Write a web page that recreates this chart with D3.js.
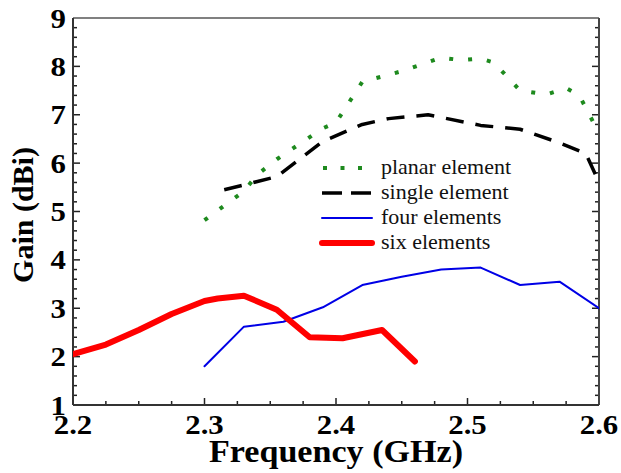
<!DOCTYPE html>
<html>
<head>
<meta charset="utf-8">
<script src="https://cdn.jsdelivr.net/npm/d3@7"></script>
<style>
  body { margin: 0; background: #fff; }
  svg { display: block; }
</style>
</head>
<body>
<div id="chart"></div>
<script>

// values
var planarFreq = [2.30, 2.33, 2.34, 2.355, 2.39, 2.40, 2.42, 2.45, 2.48, 2.495, 2.51, 2.52, 2.54, 2.56, 2.575, 2.585, 2.60];
var planarGain = [4.82, 5.42, 5.76, 6.08, 6.72, 6.84, 7.68, 7.9, 8.18, 8.13, 8.16, 8.08, 7.5, 7.42, 7.55, 7.4, 6.62];

var singleFreq = [2.315, 2.33, 2.355, 2.39, 2.42, 2.44, 2.47, 2.51, 2.54, 2.57, 2.59, 2.60];
var singleGain = [5.45, 5.55, 5.72, 6.45, 6.8, 6.92, 7.0, 6.78, 6.7, 6.42, 6.2, 5.6];

var fourFreq = [2.30, 2.33, 2.36, 2.39, 2.42, 2.45, 2.48, 2.51, 2.54, 2.57, 2.60];
var fourGain = [1.8, 2.62, 2.72, 3.02, 3.48, 3.65, 3.8, 3.84, 3.48, 3.55, 3.0];

var sixFreq = [2.20, 2.225, 2.25, 2.275, 2.30, 2.31, 2.33, 2.355, 2.38, 2.405, 2.435, 2.46];
var sixGain = [2.05, 2.25, 2.55, 2.88, 3.15, 3.2, 3.26, 2.97, 2.4, 2.38, 2.55, 1.9];

var xTicks = [2.2, 2.3, 2.4, 2.5, 2.6];
var yTicks = [1, 2, 3, 4, 5, 6, 7, 8, 9];

var seriesNames = ["planar element", "single element", "four elements", "six elements"];

var W = 621, H = 473;
var margin = {top: 18, right: 22, bottom: 68, left: 73},
    width = W - margin.left - margin.right,
    height = H - margin.top - margin.bottom;

var serif = "'Liberation Serif', 'Times New Roman', serif";
// the original picture is a little stretched sideways, so are its letters
var stretch = 1.1;

function place(px, py) {
  return "translate(" + px + "," + py + ") scale(" + stretch + ",1)";
}

var svg = d3.select("#chart")
  .append("svg")
    .attr("width", W)
    .attr("height", H);

var g = svg.append("g")
    .attr("transform", "translate(" + margin.left + "," + margin.top + ")");

var x = d3.scaleLinear().domain([2.2, 2.6]).range([0, width]);
var y = d3.scaleLinear().domain([1, 9]).range([height, 0]);

// line styles for each series
var styles = [
  {color: "#1e8a1e", width: 4, dash: "4,15", cap: "butt"},
  {color: "#000000", width: 3.5, dash: "18,12", cap: "butt"},
  {color: "#0000e6", width: 2, dash: null, cap: "round"},
  {color: "#ff0000", width: 6, dash: null, cap: "round"}
];

var series = [
  d3.zip(planarFreq, planarGain),
  d3.zip(singleFreq, singleGain),
  d3.zip(fourFreq, fourGain),
  d3.zip(sixFreq, sixGain)
];

g.append("clipPath").attr("id", "plotclip")
  .append("rect").attr("width", width).attr("height", height);

// minor ticks, inward
var minorX = d3.range(0, 17).map(function (i) { return 2.2 + i * 0.025; });
var minorY = d3.range(0, 41).map(function (i) { return 1 + i * 0.2; });

var tickColor = "#222";

g.append("g").selectAll("line")
  .data(minorX)
  .enter().append("line")
    .attr("x1", function (d) { return x(d); })
    .attr("x2", function (d) { return x(d); })
    .attr("y1", height)
    .attr("y2", function (d, i) { return height - (i % 4 === 0 ? 7 : 4); })
    .attr("stroke", tickColor)
    .attr("stroke-width", 1.5);

[0, width].forEach(function (xx, side) {
  g.append("g").selectAll("line")
    .data(minorY)
    .enter().append("line")
      .attr("y1", function (d) { return y(d); })
      .attr("y2", function (d) { return y(d); })
      .attr("x1", xx)
      .attr("x2", function (d, i) {
        var len = (i % 5 === 0 ? 7 : 4);
        return side === 0 ? xx + len : xx - len;
      })
      .attr("stroke", tickColor)
      .attr("stroke-width", 1.5);
});

// frame
g.append("line").attr("x1", 0).attr("x2", width).attr("y1", 0).attr("y2", 0)
  .attr("stroke", "#808080").attr("stroke-width", 2);
g.append("line").attr("x1", width).attr("x2", width).attr("y1", 0).attr("y2", height)
  .attr("stroke", "#444").attr("stroke-width", 2);
g.append("line").attr("x1", 0).attr("x2", 0).attr("y1", 0).attr("y2", height)
  .attr("stroke", "#333").attr("stroke-width", 2);
g.append("line").attr("x1", 0).attr("x2", width).attr("y1", height).attr("y2", height)
  .attr("stroke", "#333").attr("stroke-width", 2);

// tick labels
g.append("g").selectAll("text")
  .data(xTicks)
  .enter().append("text")
    .attr("transform", function (d) { return place(x(d), height + 29); })
    .attr("text-anchor", "middle")
    .style("font-family", serif)
    .style("font-weight", "bold")
    .style("font-size", "28px")
    .text(function (d) { return d3.format(".1f")(d); });

g.append("g").selectAll("text")
  .data(yTicks)
  .enter().append("text")
    .attr("transform", function (d) { return place(-7, y(d)); })
    .attr("dy", "0.34em")
    .attr("text-anchor", "end")
    .style("font-family", serif)
    .style("font-weight", "bold")
    .style("font-size", "28px")
    .text(function (d) { return d; });

// axis titles
svg.append("text")
  .attr("transform", place(margin.left + width / 2, 462))
  .attr("text-anchor", "middle")
  .style("font-family", serif)
  .style("font-weight", "bold")
  .style("font-size", "31px")
  .text("Frequency (GHz)");

svg.append("text")
  .attr("transform", "translate(33," + 215 + ") rotate(-90)")
  .attr("text-anchor", "middle")
  .style("font-family", serif)
  .style("font-weight", "bold")
  .style("font-size", "30px")
  .text("Gain (dBi)");

// the curves
var line = d3.line()
  .x(function (d) { return x(d[0]); })
  .y(function (d) { return y(d[1]); });

g.append("g").attr("clip-path", "url(#plotclip)")
  .selectAll("path")
  .data(series)
  .enter().append("path")
    .attr("d", line)
    .attr("fill", "none")
    .attr("stroke", function (d, i) { return styles[i].color; })
    .attr("stroke-width", function (d, i) { return styles[i].width; })
    .attr("stroke-dasharray", function (d, i) { return styles[i].dash; })
    .attr("stroke-linecap", function (d, i) { return styles[i].cap; })
    .attr("stroke-linejoin", "round");

// legend
var legend = svg.append("g").attr("transform", "translate(322,168)");

var rows = legend.selectAll("g")
  .data(seriesNames)
  .enter().append("g")
    .attr("transform", function (d, i) { return "translate(0," + (i * 25) + ")"; });

rows.append("line")
  .attr("x1", function (d, i) { return i === 0 ? 1 : 0; })
  .attr("x2", 50)
  .attr("y1", 0).attr("y2", 0)
  .attr("stroke", function (d, i) { return styles[i].color; })
  .attr("stroke-width", function (d, i) { return styles[i].width; })
  .attr("stroke-dasharray", function (d, i) { return i === 0 ? "4,13.5" : (i === 1 ? "20,9" : null); })
  .attr("stroke-linecap", function (d, i) { return styles[i].cap; });

rows.append("text")
  .attr("transform", place(59, 0))
  .attr("dy", "0.32em")
  .style("font-family", serif)
  .style("font-size", "20px")
  .style("fill", "#111")
  .text(function (d) { return d; });

</script>
</body>
</html>
